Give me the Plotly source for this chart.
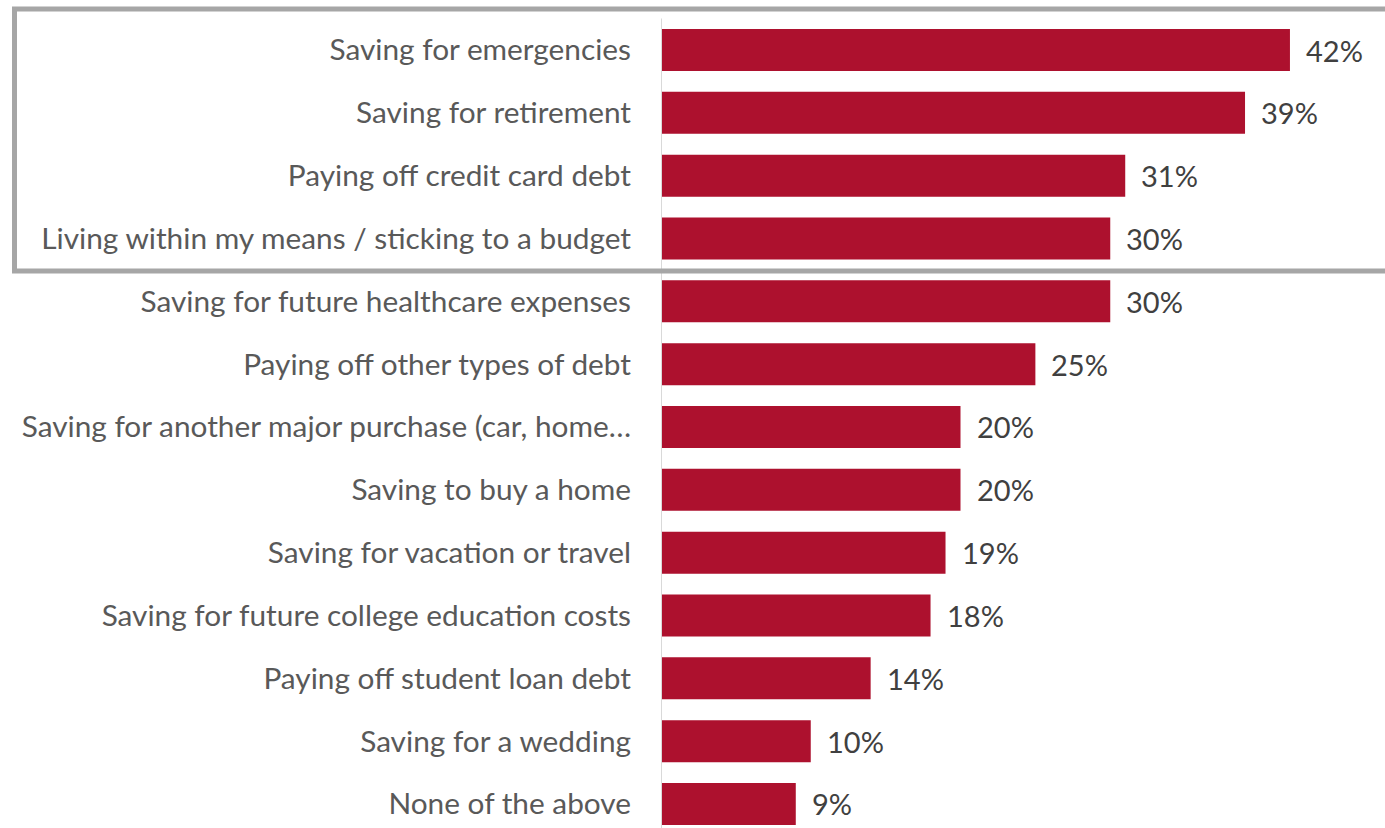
import plotly.graph_objects as go

# Financial priorities, share of respondents (%)
categories = [
    "Saving for emergencies",
    "Saving for retirement",
    "Paying off credit card debt",
    "Living within my means / sticking to a budget",
    "Saving for future healthcare expenses",
    "Paying off other types of debt",
    "Saving for another major purchase (car, home…",
    "Saving to buy a home",
    "Saving for vacation or travel",
    "Saving for future college education costs",
    "Paying off student loan debt",
    "Saving for a wedding",
    "None of the above",
]
values = [42, 39, 31, 30, 30, 25, 20, 20, 19, 18, 14, 10, 9]
value_labels = [f"{v}%" for v in values]

BAR_COLOR = "#AD112E"
FONT = "Lato"
W, H = 1385, 828
PLOT_LEFT = 661          # pixel position of the value axis
PX_PER_PCT = 14.975      # horizontal scale
ROW_STEP = 62.83         # vertical distance between rows
FIRST_ROW_Y = 50         # pixel centre of the first row

x_max = (W - PLOT_LEFT) / PX_PER_PCT
y_top = -FIRST_ROW_Y / ROW_STEP
y_bottom = (H - FIRST_ROW_Y) / ROW_STEP

fig = go.Figure()
fig.add_trace(go.Bar(
    x=values,
    y=categories,
    orientation="h",
    marker=dict(color=BAR_COLOR, line=dict(width=0)),
    hoverinfo="skip",
))

# value labels to the right of each bar
for cat, v, lab in zip(categories, values, value_labels):
    fig.add_annotation(
        x=v, y=cat, text=lab, showarrow=False,
        xanchor="left", yanchor="middle", xshift=14,
        font=dict(family=FONT, size=29, color="#404040"),
    )

# vertical axis line spanning the category rows
fig.add_shape(
    type="line", xref="x", yref="y",
    x0=0, x1=0, y0=-0.5, y1=len(categories) - 0.5,
    line=dict(color="#D9D9D9", width=2),
)

# grey frame around the top four items
fig.add_shape(
    type="rect", xref="paper", yref="paper",
    x0=(14.5 - PLOT_LEFT) / (W - PLOT_LEFT), x1=1.05,
    y0=1 - 271 / H, y1=1 - 9 / H,
    line=dict(color="#A6A6A6", width=5),
    fillcolor="rgba(0,0,0,0)",
    layer="above",
)

fig.update_layout(
    width=W, height=H,
    margin=dict(l=PLOT_LEFT, r=0, t=0, b=0),
    paper_bgcolor="white",
    plot_bgcolor="white",
    bargap=1 - 42 / ROW_STEP,
    showlegend=False,
    xaxis=dict(
        range=[0, x_max], visible=False, fixedrange=True,
    ),
    yaxis=dict(
        type="category",
        categoryorder="array", categoryarray=categories,
        range=[y_bottom, y_top],
        showgrid=False, zeroline=False, showline=False,
        ticks="", ticklabelstandoff=29,
        tickfont=dict(family=FONT, size=29.8, color="#595959"),
        fixedrange=True,
    ),
)

fig.write_html("out.html", config={"displayModeBar": False})
